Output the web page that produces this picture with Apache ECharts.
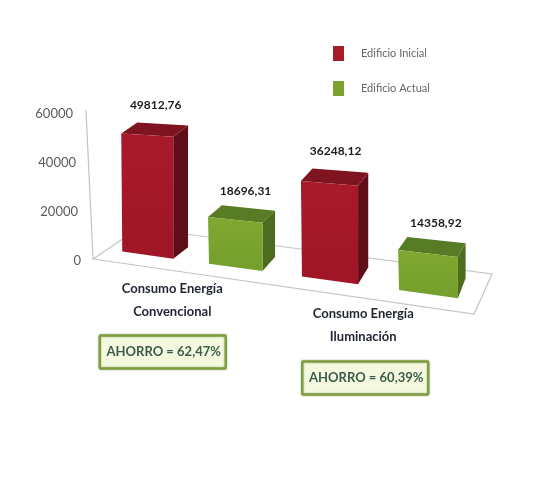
<!DOCTYPE html>
<html>
<head>
<meta charset="utf-8">
<style>
html,body{margin:0;padding:0;background:#fff}
#chart{width:555px;height:479px;filter:blur(0.5px)}
</style>
<script src="https://cdn.jsdelivr.net/npm/echarts@6/dist/echarts.min.js"></script>
</head>
<body>
<div id="chart"></div>
<script>
const categories = ['Consumo Energía\nConvencional', 'Consumo Energía\nIluminación'];
const seriesNames = ['Edificio Inicial', 'Edificio Actual'];
const inicial = [49812.76, 36248.12];
const actual = [18696.31, 14358.92];
const ahorro = ['AHORRO = 62,47%', 'AHORRO = 60,39%'];
const yTicks = [0, 20000, 40000, 60000];

const FONT = 'Lato, "Open Sans", sans-serif';
const redFaces = {front: ['#a81a2a', '#a01626'], side: '#5f0d16', top: '#7d1420'};
const greenFaces = {front: ['#80a830', '#749f2c'], side: '#4c6c1e', top: '#587c26'};

// Oblique projection of the floor: everything is relative to the grid box
const GROUND_SLOPE = 0.1386;
const groundY = (x, bottom) => bottom - 7 + GROUND_SLOPE * (x - 125);
const persp = x => 0.97 + 0.0006 * (x - 125);
const barWidth = x => 51 + (x - 148) * 0.028;
const depthX = x => 16 - 0.025 * (x - 125);
const depthTop = x => 11 + 0.008 * (x - 125);
const depthBottom = x => 10 + 0.03 * (x - 125);
const boxDx = [-29, -14];
const boxDy = [93, 119];
const catLabelDx = [-19.5, -16];
const catLabelDy = [41, 66];

function barRenderer(faces, side) {
  return function (params, api) {
    const cat = api.value(0), val = api.value(1);
    const base = api.coord([cat, 0]);
    const top = api.coord([cat, val]);
    const unit = base[1] - top[1];
    const bottom = base[1];
    const c = base[0] + side * (44 + (base[0] - 191.75) * 0.028);
    const w = barWidth(c);
    const xl = c - w / 2, xr = c + w / 2;
    const bl = [xl, groundY(xl, bottom)], br = [xr, groundY(xr, bottom)];
    const tl = [xl - 1, bl[1] - unit * persp(xl)], tr = [xr, br[1] - unit * persp(xr)];
    const btl = [tl[0] + depthX(xl), tl[1] - depthTop(xl)];
    const btr = [tr[0] + depthX(xr), tr[1] - depthTop(xr)];
    const bbr = [br[0] + depthX(xr), br[1] - depthBottom(xr)];
    return {
      type: 'group',
      children: [
        {type: 'polygon', shape: {points: [tr, btr, bbr, br]}, style: {fill: faces.side}},
        {type: 'polygon', shape: {points: [tl, btl, btr, tr]}, style: {fill: faces.top}},
        {type: 'polygon', shape: {points: [tl, tr, br, bl]}, style: {
          fill: {type: 'linear', x: 0, y: 0, x2: 0, y2: 1,
            colorStops: [{offset: 0, color: faces.front[0]}, {offset: 1, color: faces.front[1]}]}
        }},
        {type: 'text', style: {
          text: val.toFixed(2).replace('.', ','),
          x: (tl[0] + btr[0]) / 2 + (side > 0 ? 4 : 1),
          y: Math.min(btl[1], btr[1]) - (side > 0 ? 14 : 17),
          align: 'center', verticalAlign: 'middle',
          fill: '#1c1c1c', font: 'bold 12px ' + FONT
        }}
      ]
    };
  };
}

function frameRenderer(params, api) {
  const cat = api.value(0);
  const base = api.coord([cat, 0]);
  const g = params.coordSys;
  const children = [];
  const bottom = g.y + g.height, left = g.x;
  if (params.dataIndex === 0) {
    const floor = [[left - 5, bottom], [left + 41, bottom - 31], [left + 394, bottom + 15], [left + 376, bottom + 55]];
    children.push({type: 'polygon', shape: {points: floor}, style: {fill: 'none', stroke: '#c4c4c4', lineWidth: 1.2}});
    children.push({type: 'line', shape: {x1: left - 12, y1: g.y - 2, x2: left - 5, y2: bottom}, style: {stroke: '#c4c4c4', lineWidth: 1.2}});
  }
  const lx = base[0] + catLabelDx[cat], ly = bottom + catLabelDy[cat];
  children.push({type: 'text', style: {
    text: categories[cat], x: lx, y: ly, align: 'center', verticalAlign: 'middle',
    lineHeight: 23, fill: '#1f2430', font: 'bold 13px ' + FONT
  }});
  const bx = base[0] + boxDx[cat], by = bottom + boxDy[cat];
  children.push({type: 'rect', shape: {x: bx - 63, y: by - 16.5, width: 126, height: 33, r: 1},
    style: {fill: '#f3f8df', stroke: '#7f9d3f', lineWidth: 2.4, shadowBlur: 2, shadowColor: 'rgba(90,110,50,0.5)'}});
  children.push({type: 'text', style: {
    text: ahorro[cat], x: bx + 1, y: by, align: 'center', verticalAlign: 'middle',
    fill: '#3d5c4c', font: 'bold 13px ' + FONT
  }});
  return {type: 'group', children};
}

const tickPad = v => Math.round(v / 60000 * 8);
const tickRich = {};
yTicks.forEach(v => {
  tickRich['t' + v] = {padding: [4, tickPad(v), 0, 0], color: '#5a5a5a', fontSize: 13, fontFamily: FONT};
});

const chart = echarts.init(document.getElementById('chart'), null, {renderer: 'canvas'});
chart.setOption({
  animation: false,
  backgroundColor: '#ffffff',
  grid: {left: 98, width: 375, top: 112, height: 147, containLabel: false},
  legend: {
    data: seriesNames,
    orient: 'vertical',
    left: 333, top: 46, padding: 0,
    itemWidth: 11, itemHeight: 15, itemGap: 20,
    icon: 'rect',
    selectedMode: false,
    textStyle: {color: '#666', fontSize: 11, fontFamily: FONT, padding: [0, 0, 0, 12]}
  },
  xAxis: {type: 'category', data: categories, show: false},
  yAxis: {
    type: 'value', min: 0, max: 60000, interval: 20000,
    axisLine: {show: false}, axisTick: {show: false}, splitLine: {show: false},
    axisLabel: {margin: 17, formatter: v => '{t' + v + '|' + v + '}', rich: tickRich}
  },
  series: [
    {type: 'custom', name: 'marco', z: 1, renderItem: frameRenderer, silent: true,
      data: categories.map((c, i) => [i, 0])},
    {type: 'custom', name: seriesNames[0], z: 2, renderItem: barRenderer(redFaces, -1),
      itemStyle: {color: '#a81c2a'},
      data: inicial.map((v, i) => [i, v])},
    {type: 'custom', name: seriesNames[1], z: 2, renderItem: barRenderer(greenFaces, 1),
      itemStyle: {color: '#7aa32f'},
      data: actual.map((v, i) => [i, v])}
  ]
});
</script>
</body>
</html>
